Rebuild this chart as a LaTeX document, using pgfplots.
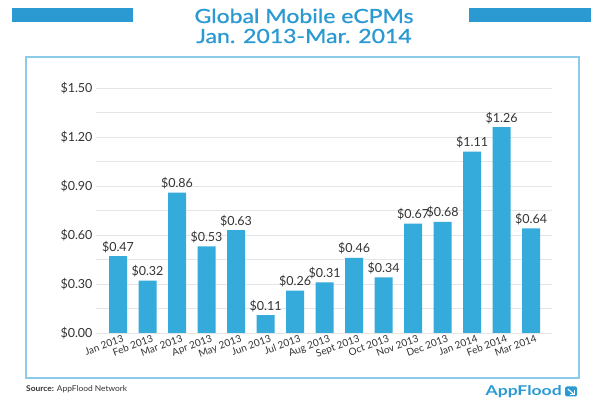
\documentclass[border=0pt]{standalone}
\usepackage{pgfplots}
\pgfplotsset{compat=1.18}
\usepackage{fontspec}
\setmainfont{Lato}
\newfontfamily\titlefont{Lato}[FakeBold=0.8]
\definecolor{barblue}{HTML}{35ABDC}
\definecolor{titleblue}{HTML}{2B9AD2}
\definecolor{frameblue}{HTML}{8CCBEA}
\definecolor{txt}{HTML}{333333}
\begin{document}
\begin{tikzpicture}[x=1pt,y=1pt]
\path[use as bounding box, fill=white] (0,0) rectangle (600,407);
% title bars
\fill[titleblue] (12,407-8) rectangle (133,407-22);
\fill[titleblue] (469,407-8) rectangle (591,407-22);
\node[font=\titlefont\fontsize{19.5}{22}\selectfont, text=titleblue, anchor=base, inner sep=0pt, xscale=1.18] at (304,407-23) {Global Mobile eCPMs};
\node[font=\titlefont\fontsize{19.5}{22}\selectfont, text=titleblue, anchor=base, inner sep=0pt, xscale=1.18] at (304,407-43) {Jan. 2013-Mar. 2014};
% frame
\draw[frameblue, line width=1.5pt] (26,407-57) rectangle (579,407-378);
\begin{axis}[
  at={(96pt,74pt)}, anchor=south west,
  scale only axis, width=456pt, height=245pt,
  xmin=-0.746, xmax=14.71, ymin=0, ymax=1.5,
  axis line style={draw=none},
  major tick length=0pt, minor tick length=0pt,
  ytick={0,0.3,0.6,0.9,1.2,1.5},
  yticklabels={\$0.00,\$0.30,\$0.60,\$0.90,\$1.20,\$1.50},
  minor ytick={0.15,0.45,0.75,1.05,1.35},
  ymajorgrids, yminorgrids,
  grid style={draw=black!10, line width=0.8pt},
  minor grid style={draw=black!10, line width=0.8pt},
  y tick label style={font=\fontsize{12.5}{14}\selectfont, text=txt},
  xtick=data,
  xticklabels={Jan 2013,Feb 2013,Mar 2013,Apr 2013,May 2013,Jun 2013,Jul 2013,Aug 2013,Sept 2013,Oct 2013,Nov 2013,Dec 2013,Jan 2014,Feb 2014,Mar 2014},
  x tick label style={font=\fontsize{10}{12}\selectfont, text=txt, rotate=20, anchor=north east, inner sep=1pt, xshift=4pt, yshift=-2pt},
  ybar, bar width=18pt,
  nodes near coords={\$\pgfmathprintnumber[fixed,fixed zerofill,precision=2]{\pgfplotspointmeta}},
  nodes near coords style={font=\fontsize{12.5}{14}\selectfont, text=txt, /pgf/number format/assume math mode=true},
]
\addplot[fill=barblue, draw=none] coordinates {
(0,0.47) (1,0.32) (2,0.86) (3,0.53) (4,0.63) (5,0.11) (6,0.26) (7,0.31) (8,0.46) (9,0.34) (10,0.67) (11,0.68) (12,1.11) (13,1.26) (14,0.64)};
\end{axis}
% footer
\node[anchor=base west, font=\fontsize{8}{9}\selectfont, text=txt, inner sep=0pt, xscale=1.05] at (26,407-392) {\textbf{Source:} AppFlood Network};
\node[anchor=base east, font=\bfseries\fontsize{13.5}{15}\selectfont, text=titleblue, inner sep=0pt, xscale=1.3] at (562,407-396) {AppFlood};
\fill[titleblue, rounded corners=1.5pt] (565,407-386.5) rectangle (577,407-396.5);
\draw[white, line width=1.1pt] (567.8,407-389) -- (573.5,407-394);
\draw[white, line width=1.1pt] (574.3,407-389.8) -- (574.3,407-394.3) -- (569.5,407-394.3);
\end{tikzpicture}
\end{document}
